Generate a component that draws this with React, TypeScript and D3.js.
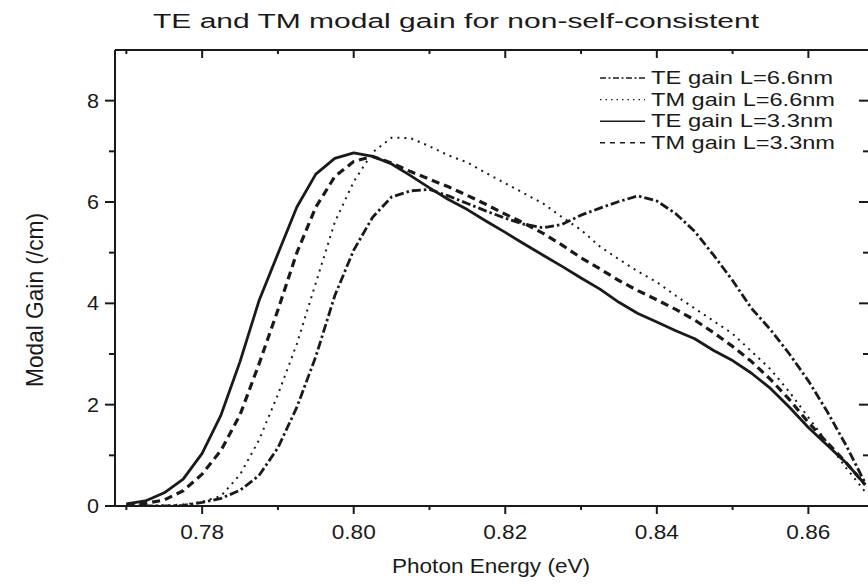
import React from 'react';
import * as d3 from 'd3';

const energy = [0.77, 0.7725, 0.775, 0.7775, 0.78, 0.7825, 0.785, 0.7875, 0.79, 0.7925, 0.795, 0.7975, 0.8, 0.8025, 0.805, 0.8075, 0.81, 0.8125, 0.815, 0.8175, 0.82, 0.8225, 0.825, 0.8275, 0.83, 0.8325, 0.835, 0.8375, 0.84, 0.8425, 0.845, 0.8475, 0.85, 0.8525, 0.855, 0.8575, 0.86, 0.8625, 0.865, 0.8675];

const teGain66 = [0, 0, 0, 0.01, 0.07, 0.15, 0.31, 0.6, 1.15, 1.95, 2.95, 4.15, 5.05, 5.7, 6.1, 6.22, 6.25, 6.12, 5.97, 5.82, 5.68, 5.56, 5.49, 5.56, 5.74, 5.88, 6.01, 6.12, 6.02, 5.77, 5.42, 4.95, 4.45, 3.9, 3.48, 3.0, 2.47, 1.86, 1.19, 0.45];
const tmGain66 = [0, 0, 0.01, 0.03, 0.08, 0.2, 0.62, 1.3, 2.2, 3.2, 4.4, 5.6, 6.4, 6.98, 7.27, 7.26, 7.1, 6.92, 6.78, 6.57, 6.37, 6.17, 5.97, 5.7, 5.45, 5.12, 4.87, 4.63, 4.42, 4.15, 3.9, 3.65, 3.4, 3.05, 2.7, 2.25, 1.75, 1.25, 0.75, 0.28];
const teGain33 = [0.04, 0.1, 0.26, 0.53, 1.04, 1.8, 2.85, 4.05, 4.98, 5.9, 6.55, 6.86, 6.97, 6.9, 6.75, 6.52, 6.28, 6.05, 5.85, 5.62, 5.4, 5.17, 4.95, 4.73, 4.5, 4.28, 4.02, 3.8, 3.63, 3.46, 3.3, 3.07, 2.87, 2.62, 2.32, 1.95, 1.55, 1.2, 0.85, 0.42];
const tmGain33 = [0.02, 0.05, 0.12, 0.3, 0.63, 1.1, 1.8, 2.8, 3.87, 5.0, 5.9, 6.5, 6.8, 6.9, 6.77, 6.6, 6.45, 6.3, 6.13, 5.95, 5.76, 5.58, 5.38, 5.15, 4.9, 4.68, 4.45, 4.25, 4.07, 3.88, 3.67, 3.42, 3.15, 2.85, 2.5, 2.1, 1.65, 1.25, 0.85, 0.42];

const seriesNames = ['TE gain L=6.6nm', 'TM gain L=6.6nm', 'TE gain L=3.3nm', 'TM gain L=3.3nm'];

const xMajorTicks = [0.78, 0.8, 0.82, 0.84, 0.86];
const xMinorTicks = [0.77, 0.79, 0.81, 0.83, 0.85];
const yMajorTicks = [0, 2, 4, 6, 8];
const yMinorTicks = [1, 3, 5, 7];

const titleText = 'TE and TM modal gain for non-self-consistent';
const xLabel = 'Photon Energy (eV)';
const yLabel = 'Modal Gain (/cm)';

const W = 868;
const H = 584;
const L = 115, R = 869, T = 50, B = 506;
const FONT = '"Liberation Sans", Arial, Helvetica, sans-serif';
const INK = '#1a1a1a';

const styles = [
  { width: 2.8, dash: '9,3,2.5,3', lw: 1.3, ldash: '6,2.5,2,2.5' },
  { width: 2, dash: '2,5', lw: 1.3, ldash: '1.5,4' },
  { width: 2.8, dash: undefined as string | undefined, lw: 1.4, ldash: undefined as string | undefined },
  { width: 3.2, dash: '8,5', lw: 1.4, ldash: '5,5' },
];

export default function App() {
  const x = d3.scaleLinear().domain([0.7685, 0.868]).range([L, R]);
  const y = d3.scaleLinear().domain([0, 9]).range([B, T]);
  const all = [teGain66, tmGain66, teGain33, tmGain33];
  const line = d3.line<number>().x((_, i) => x(energy[i])).y((d) => y(d)).curve(d3.curveLinear);

  const fmt = d3.format('.2f');

  return (
    <div style={{ position: 'fixed', left: 0, top: 0 }}>
      <svg width={W} height={H} viewBox={`0 0 ${W} ${H}`} style={{ display: 'block', background: '#fff' }}>
        <defs>
          <clipPath id="plot">
            <rect x={L} y={T} width={R - L} height={B - T} />
          </clipPath>
        </defs>
        {/* title */}
        <text x={456} y={28} fontFamily={FONT} fontSize={20.5} fill={INK} textAnchor="middle" textLength={606} lengthAdjust="spacingAndGlyphs">{titleText}</text>

        {/* curves */}
        <g clipPath="url(#plot)">
          {all.map((s, k) => (
            <path key={k} d={line(s) || ''} fill="none" stroke={INK} strokeWidth={styles[k].width} strokeDasharray={styles[k].dash} strokeLinejoin="round" />
          ))}
        </g>

        {/* frame */}
        <g stroke={INK} strokeWidth={2} fill="none">
          <line x1={L} y1={T} x2={R} y2={T} />
          <line x1={L} y1={B} x2={R} y2={B} />
          <line x1={L} y1={T} x2={L} y2={B + 1} />
          <line x1={R} y1={T} x2={R} y2={B} />
        </g>

        {/* bottom ticks (outward) and top ticks (inward) */}
        <g stroke={INK} strokeWidth={2}>
          {xMajorTicks.map((t) => (
            <g key={'xm' + t}>
              <line x1={x(t)} x2={x(t)} y1={B} y2={B + 8} />
              <line x1={x(t)} x2={x(t)} y1={T} y2={T + 8} />
            </g>
          ))}
          {xMinorTicks.map((t) => (
            <g key={'xn' + t}>
              <line x1={x(t)} x2={x(t)} y1={B} y2={B + 4} />
              <line x1={x(t)} x2={x(t)} y1={T} y2={T + 4} />
            </g>
          ))}
          {yMajorTicks.map((t) => (
            <g key={'ym' + t}>
              <line x1={L - 10} x2={L} y1={y(t)} y2={y(t)} />
              <line x1={R - 10} x2={R} y1={y(t)} y2={y(t)} />
            </g>
          ))}
          {yMinorTicks.map((t) => (
            <g key={'yn' + t}>
              <line x1={L - 6} x2={L} y1={y(t)} y2={y(t)} />
              <line x1={R - 6} x2={R} y1={y(t)} y2={y(t)} />
            </g>
          ))}
        </g>

        {/* tick labels */}
        <g fontFamily={FONT} fontSize={19.5} fill={INK}>
          {xMajorTicks.map((t) => (
            <text key={'xl' + t} x={x(t)} y={539} textAnchor="middle" textLength={44} lengthAdjust="spacingAndGlyphs">{fmt(t)}</text>
          ))}
          {yMajorTicks.map((t) => (
            <text key={'yl' + t} x={99} y={y(t) + 7} textAnchor="end" textLength={12} lengthAdjust="spacingAndGlyphs">{String(t)}</text>
          ))}
        </g>

        {/* axis labels */}
        <text x={491} y={573} fontFamily={FONT} fontSize={20} fill={INK} textAnchor="middle" textLength={198} lengthAdjust="spacingAndGlyphs">{xLabel}</text>
        <text transform={`translate(43,300) rotate(-90)`} fontFamily={FONT} fontSize={24} fill={INK} textAnchor="middle" textLength={174} lengthAdjust="spacingAndGlyphs">{yLabel}</text>

        {/* legend */}
        <g>
          {seriesNames.map((name, k) => {
            const cy = 78 + k * 21.6;
            return (
              <g key={name}>
                <line x1={600} x2={645} y1={cy} y2={cy} stroke={INK} strokeWidth={styles[k].lw} strokeDasharray={styles[k].ldash} />
                <text x={651} y={cy + 6} fontFamily={FONT} fontSize={17.5} fill={INK} textLength={k === 1 || k === 3 ? 184 : 182} lengthAdjust="spacingAndGlyphs">{name}</text>
              </g>
            );
          })}
        </g>
      </svg>
    </div>
  );
}
